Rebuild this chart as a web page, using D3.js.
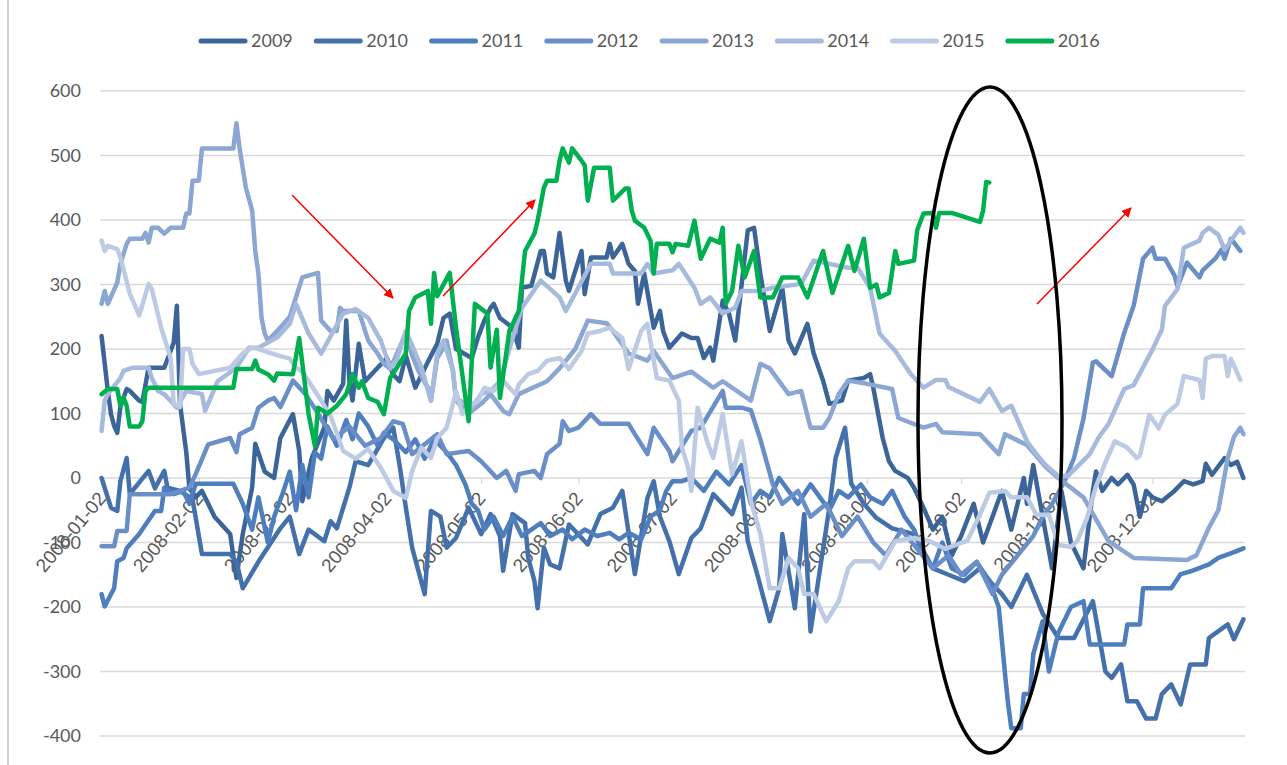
<!DOCTYPE html>
<html>
<head>
<meta charset="utf-8">
<script src="https://cdn.jsdelivr.net/npm/d3@7"></script>
<style>
  body { margin: 0; background: #fff; }
  svg { display: block; font-family: Lato, "Open Sans", sans-serif; }
  .grid line { stroke: #d9d9d9; stroke-width: 1.3; }
  .ylab, .xlab, .legtext { fill: #595959; font-size: 18px; }
  .series { fill: none; stroke-width: 4.5; stroke-linejoin: round; stroke-linecap: round; }
</style>
</head>
<body>
<svg id="chart" width="1287" height="765"></svg>
<script>
// series: [days after 2008-01-02, value]
var s2009 = [[0,220],[2,135],[3,99],[4,81],[5,70],[6,110],[8,138],[9,135],[12,120],[13,118],[15,171],[20,171],[23,210],[24,267],[25,115],[27,40],[28,-16],[30,-30],[32,-20],[36,-60],[41,-87],[43,-155],[45,-87],[48,-15],[49,53],[52,10],[55,0],[57,62],[61,99],[63,42],[64,-36],[67,31],[71,78],[72,135],[74,120],[77,146],[78,244],[79,150],[80,120],[82,208],[84,150],[88,171],[91,186],[93,160],[95,150],[97,190],[100,140],[104,180],[107,208],[109,248],[111,255],[113,200],[118,186],[120,218],[122,244],[124,264],[125,270],[127,248],[131,233],[133,202],[134,295],[137,298],[140,352],[141,352],[142,317],[144,311],[146,380],[148,306],[149,290],[153,352],[154,285],[156,342],[161,342],[162,363],[163,342],[166,363],[168,332],[170,321],[171,270],[173,317],[176,233],[178,259],[179,228],[181,202],[185,224],[188,217],[190,217],[192,186],[194,202],[195,182],[198,275],[200,255],[202,213],[206,384],[208,388],[210,317],[213,228],[217,295],[219,213],[221,193],[225,239],[227,193],[230,151],[232,115],[236,120],[238,151],[243,155],[245,161],[246,140],[249,62],[251,26],[253,11],[257,0],[259,-15],[262,-46],[265,-80],[268,-60],[271,-120],[274,-90],[278,-40],[281,-100],[284,-60],[287,-20],[290,-80],[294,0],[295,-40],[297,20],[300,-60],[303,-140],[306,-20],[309,-100],[313,-140],[316,-20],[317,10],[319,-20],[322,0],[324,-10],[327,5],[329,-10],[331,-60],[333,-20],[335,-30],[338,-36],[342,-20],[345,-5],[348,-10],[351,-5],[352,22],[354,5],[358,31],[360,20],[362,25],[364,0]];
var s2010 = [[0,0],[3,-46],[5,-51],[6,-5],[8,31],[9,-25],[15,11],[17,-16],[20,11],[21,-15],[25,-20],[29,-33],[32,-118],[41,-118],[43,-130],[45,-171],[50,-130],[57,-78],[60,-60],[63,-118],[66,-80],[71,-98],[73,-67],[75,-78],[79,-15],[81,26],[85,20],[90,62],[93,78],[95,20],[97,-46],[99,-108],[103,-180],[105,-51],[108,-60],[110,-108],[113,-93],[117,-46],[121,-87],[124,-56],[127,-90],[128,-144],[131,-56],[135,-70],[136,-124],[138,-160],[139,-202],[141,-108],[143,-134],[146,-140],[149,-72],[155,-103],[159,-56],[163,-46],[166,-20],[170,-149],[174,-31],[176,-5],[178,-60],[181,-98],[184,-149],[188,-93],[191,-78],[195,-25],[201,-56],[204,-15],[206,-98],[209,-149],[213,-222],[216,-171],[217,-87],[221,-202],[224,-56],[226,-238],[232,-46],[234,31],[237,78],[239,-9],[243,-40],[247,-62],[252,-78],[259,-87],[265,-140],[270,-150],[275,-160],[280,-140],[284,-165],[287,-180],[290,-200],[295,-150],[300,-210],[305,-248],[310,-248],[316,-191],[320,-300],[322,-310],[325,-289],[327,-346],[330,-346],[333,-373],[336,-373],[338,-335],[341,-320],[344,-351],[347,-289],[352,-289],[353,-248],[359,-227],[361,-250],[364,-219]];
var s2011 = [[0,-180],[1,-199],[4,-171],[5,-129],[7,-124],[8,-109],[12,-87],[17,-51],[19,-51],[20,-15],[23,-25],[26,-20],[28,-40],[30,-9],[42,-9],[45,-40],[48,-80],[50,-30],[53,-100],[55,-60],[58,-20],[60,10],[62,-50],[64,20],[66,-30],[68,40],[70,30],[72,80],[75,50],[78,90],[80,60],[82,100],[85,80],[88,50],[90,70],[93,60],[97,40],[100,60],[103,30],[106,60],[110,40],[113,20],[116,-10],[118,-40],[120,-50],[122,-80],[125,-60],[128,-90],[131,-60],[134,-90],[137,-80],[140,-70],[143,-90],[147,-80],[150,-95],[154,-80],[158,-90],[162,-85],[165,-95],[168,-85],[172,-95],[175,-60],[178,-50],[180,-20],[182,-5],[185,-5],[188,0],[192,-20],[196,10],[200,-10],[204,20],[207,-40],[210,-20],[213,-30],[216,0],[219,-20],[222,-40],[226,-10],[229,-30],[232,-50],[235,-20],[238,-30],[242,-10],[245,-30],[249,-40],[252,-20],[256,-60],[259,-80],[262,-120],[265,-140],[268,-100],[271,-140],[275,-150],[279,-130],[283,-160],[286,-200],[288,-304],[289,-351],[290,-388],[293,-388],[294,-335],[296,-335],[297,-273],[300,-222],[302,-300],[305,-240],[309,-200],[313,-191],[315,-258],[326,-258],[327,-227],[331,-227],[332,-171],[341,-171],[344,-149],[347,-145],[353,-134],[356,-124],[361,-115],[364,-109]];
var s2012 = [[0,-106],[4,-106],[5,-82],[8,-82],[9,-25],[22,-25],[28,-15],[30,6],[34,52],[41,62],[43,40],[44,68],[48,78],[50,109],[53,120],[55,124],[57,110],[61,151],[65,130],[69,100],[74,60],[79,80],[84,50],[89,62],[93,88],[96,84],[99,37],[107,68],[110,37],[117,42],[121,26],[126,0],[129,11],[132,-20],[133,6],[138,11],[140,0],[142,37],[146,53],[147,88],[149,73],[152,78],[156,99],[159,84],[168,84],[170,68],[174,37],[176,78],[181,42],[182,26],[188,73],[191,78],[198,135],[199,109],[204,109],[207,105],[210,60],[214,-10],[217,-40],[222,-20],[226,-60],[231,-40],[236,-90],[241,-60],[246,-100],[250,-120],[255,-80],[260,-110],[265,-140],[270,-120],[274,-150],[279,-130],[284,-180],[287,-150],[292,-120],[297,-90],[300,-60],[303,-40],[307,-5],[310,31],[313,92],[316,179],[317,181],[322,158],[326,225],[329,267],[332,340],[335,357],[336,340],[339,340],[342,314],[343,297],[346,334],[350,311],[351,322],[355,340],[357,354],[358,340],[360,371],[363,352]];
var s2013 = [[0,270],[1,290],[2,270],[5,303],[6,332],[8,363],[9,371],[13,371],[14,380],[15,365],[16,388],[18,388],[20,379],[22,388],[26,388],[27,410],[28,410],[29,461],[31,461],[32,511],[42,511],[43,550],[44,511],[46,450],[48,415],[49,352],[50,317],[51,248],[52,224],[53,213],[56,228],[60,250],[64,311],[69,318],[70,244],[73,228],[75,228],[76,264],[77,259],[82,259],[85,213],[88,193],[90,177],[92,169],[95,202],[97,224],[99,190],[101,166],[104,140],[105,120],[107,186],[109,202],[110,213],[112,166],[113,120],[117,100],[121,115],[124,130],[128,104],[130,99],[133,130],[142,150],[146,170],[151,200],[155,244],[161,240],[163,228],[168,193],[174,182],[176,197],[182,155],[188,165],[195,140],[198,150],[207,120],[210,177],[213,170],[219,130],[223,135],[226,78],[230,78],[232,93],[235,130],[238,151],[244,146],[252,138],[254,93],[262,78],[266,84],[268,71],[280,68],[286,37],[288,68],[295,51],[301,17],[305,0],[313,-30],[321,-98],[329,-124],[346,-127],[349,-120],[353,-77],[356,-50],[359,31],[361,64],[363,78],[364,68]];
var s2014 = [[0,73],[1,120],[2,130],[6,155],[7,166],[10,171],[15,171],[16,155],[18,135],[20,130],[24,109],[27,135],[32,130],[33,104],[37,150],[43,171],[47,202],[50,202],[56,218],[60,239],[62,270],[66,224],[70,193],[77,255],[81,262],[85,248],[89,213],[92,171],[94,182],[97,228],[102,171],[105,120],[107,193],[109,213],[112,167],[113,124],[118,109],[121,130],[124,135],[127,150],[130,200],[134,264],[140,306],[146,280],[148,259],[156,332],[162,332],[163,317],[172,317],[174,332],[176,317],[182,322],[184,332],[189,295],[191,270],[194,280],[198,255],[202,264],[204,290],[210,290],[214,295],[223,301],[227,337],[238,326],[241,326],[245,295],[248,224],[253,197],[258,161],[262,140],[266,152],[269,152],[270,141],[280,118],[283,138],[287,104],[290,112],[295,57],[298,37],[301,20],[305,3],[308,3],[315,37],[318,64],[321,84],[326,138],[329,144],[335,199],[338,230],[339,267],[343,293],[345,357],[350,368],[351,380],[353,388],[356,377],[358,354],[360,368],[363,388],[364,380]];
var s2015 = [[0,368],[1,352],[2,360],[5,355],[6,342],[9,286],[12,252],[15,301],[16,293],[19,233],[21,202],[22,186],[23,115],[25,110],[26,200],[28,200],[29,177],[31,161],[41,171],[45,193],[48,202],[50,200],[53,195],[57,189],[60,185],[62,171],[64,165],[68,135],[70,120],[73,96],[77,42],[81,30],[85,45],[89,16],[93,-20],[97,-31],[99,11],[102,47],[105,31],[107,62],[110,78],[112,115],[113,135],[115,99],[117,112],[120,120],[122,140],[125,135],[128,151],[130,140],[132,130],[133,145],[136,161],[139,166],[142,182],[146,186],[149,169],[153,197],[155,224],[159,228],[162,233],[166,217],[168,169],[172,228],[174,239],[177,155],[181,151],[184,120],[185,47],[187,16],[188,-20],[190,109],[193,57],[195,31],[198,99],[201,6],[204,57],[207,-36],[210,-87],[213,-171],[216,-171],[219,-124],[222,-140],[224,-180],[227,-180],[231,-222],[235,-191],[238,-140],[240,-129],[246,-129],[248,-140],[253,-98],[259,-93],[264,-98],[269,-110],[276,-97],[280,-57],[283,-23],[288,-20],[290,-30],[295,-30],[298,-57],[302,-57],[305,-104],[309,-107],[311,-98],[314,-64],[317,-13],[320,24],[323,57],[327,47],[330,31],[331,35],[334,98],[337,77],[339,98],[343,115],[345,158],[350,152],[351,124],[352,185],[354,189],[358,189],[359,158],[360,185],[363,152]];
var s2016 = [[0,130],[2,138],[5,138],[6,112],[7,125],[8,112],[9,80],[12,80],[13,88],[14,135],[15,140],[42,140],[43,169],[48,169],[49,182],[50,168],[53,161],[55,151],[56,162],[61,161],[63,217],[66,99],[68,50],[69,109],[72,100],[75,112],[78,130],[80,161],[82,140],[83,150],[85,124],[88,118],[90,99],[92,155],[97,193],[98,259],[100,280],[104,290],[105,239],[106,318],[107,282],[111,318],[113,233],[117,88],[119,270],[123,255],[124,171],[126,230],[127,124],[130,228],[133,259],[134,306],[135,352],[138,379],[139,399],[141,450],[142,461],[145,461],[146,492],[147,511],[149,489],[150,511],[153,492],[154,485],[155,430],[157,481],[162,481],[163,430],[167,449],[168,449],[169,415],[170,399],[173,388],[175,368],[176,317],[177,363],[181,363],[182,350],[183,363],[187,360],[189,399],[191,340],[194,371],[197,365],[198,388],[199,270],[201,290],[203,360],[205,311],[208,352],[210,280],[214,280],[217,311],[222,311],[225,280],[230,352],[233,287],[238,360],[240,321],[243,371],[245,295],[247,300],[248,280],[251,287],[253,352],[254,332],[259,337],[260,384],[262,410],[265,411],[266,388],[267,411],[271,411],[280,397],[281,414],[282,459],[283,458]];

var years  = ['2009', '2010', '2011', '2012', '2013', '2014', '2015', '2016'];
var series = [s2009, s2010, s2011, s2012, s2013, s2014, s2015, s2016];
var colors = ['#3b6599', '#4471ab', '#4e7ebd', '#6a8fc8', '#8aa6d2', '#a6badd', '#bccae4', '#00b050'];
var yTicks = [600, 500, 400, 300, 200, 100, 0, -100, -200, -300, -400];

var svg = d3.select('#chart');
var W = 1287, H = 765;
var start = new Date(2008, 0, 2);

function toDate(day) {
	return d3.timeDay.offset(start, day);
}

var x = d3.scaleTime()
	.domain([new Date(2008, 0, 1, 12), new Date(2008, 11, 31, 12)])
	.range([100, 1245]);
var y = d3.scaleLinear().domain([-400, 600]).range([736, 91]);

// frame bits of the screenshot
svg.append('line').attr('x1', 8).attr('x2', 8).attr('y1', 0).attr('y2', H)
	.attr('stroke', '#d0d0d0').attr('stroke-width', 2);

// horizontal gridlines
svg.append('g').attr('class', 'grid')
	.selectAll('line').data(yTicks).enter().append('line')
	.attr('x1', 100).attr('x2', 1245)
	.attr('y1', function(d) { return y(d); })
	.attr('y2', function(d) { return y(d); });

svg.append('g').selectAll('text').data(yTicks).enter().append('text')
	.attr('class', 'ylab')
	.attr('x', 81)
	.attr('y', function(d) { return y(d); })
	.attr('dy', '0.35em')
	.attr('text-anchor', 'end')
	.text(function(d) { return d; });

// month ticks on the zero line
var months = d3.range(12).map(function(m) { return new Date(2008, m, 2); });
var fmt = d3.timeFormat('%Y-%m-%d');
var xAxis = d3.axisBottom(x).tickValues(months).tickFormat(fmt).tickSize(6).tickSizeOuter(0);
var ax = svg.append('g').attr('transform', 'translate(0,' + y(0) + ')').call(xAxis);
ax.select('.domain').remove();
ax.selectAll('.tick line').attr('stroke', '#d9d9d9').attr('stroke-width', 1.3);
ax.selectAll('.tick text')
	.attr('class', 'xlab')
	.attr('fill', null)
	.style('font-size', '19px')
	.attr('text-anchor', 'end')
	.attr('dy', null)
	.attr('y', 0)
	.attr('transform', 'translate(5,21) rotate(-50)');

// lines
var line = d3.line()
	.x(function(d) { return x(toDate(d[0])); })
	.y(function(d) { return y(d[1]); });

svg.append('g').selectAll('path').data(series).enter().append('path')
	.attr('class', 'series')
	.attr('d', line)
	.attr('stroke', function(d, i) { return colors[i]; })
	.attr('stroke-width', function(d, i) { return i == 7 ? 5 : 4.5; });

// legend
var leg = svg.append('g');
var lx = 199;
years.forEach(function(yr, i) {
	var g = leg.append('g').attr('transform', 'translate(' + lx + ',41)');
	g.append('line').attr('x1', 2).attr('x2', 46)
		.attr('stroke', colors[i]).attr('stroke-width', 5).attr('stroke-linecap', 'round');
	var t = g.append('text').attr('class', 'legtext').attr('x', 52).attr('dy', '0.35em').text(yr);
	lx += 52 + t.node().getComputedTextLength() + 21.5;
});

// annotations
var defs = svg.append('defs');
defs.append('marker').attr('id', 'arr')
	.attr('viewBox', '0 0 10 10').attr('refX', 9).attr('refY', 5)
	.attr('markerWidth', 10).attr('markerHeight', 10)
	.attr('markerUnits', 'userSpaceOnUse')
	.attr('orient', 'auto')
	.append('path').attr('d', 'M0,0 L10,5 L0,10 z').attr('fill', '#ff0000');

var arrows = [[292, 195, 393, 298], [443, 296, 535, 200], [1037, 304, 1131, 208]];
svg.append('g').selectAll('line').data(arrows).enter().append('line')
	.attr('x1', function(d) { return d[0]; })
	.attr('y1', function(d) { return d[1]; })
	.attr('x2', function(d) { return d[2]; })
	.attr('y2', function(d) { return d[3]; })
	.attr('stroke', '#ff0000').attr('stroke-width', 1.5)
	.attr('marker-end', 'url(#arr)');

svg.append('ellipse')
	.attr('cx', 990).attr('cy', 420).attr('rx', 72).attr('ry', 333)
	.attr('fill', 'none').attr('stroke', '#000').attr('stroke-width', 3.5);
</script>
</body>
</html>
